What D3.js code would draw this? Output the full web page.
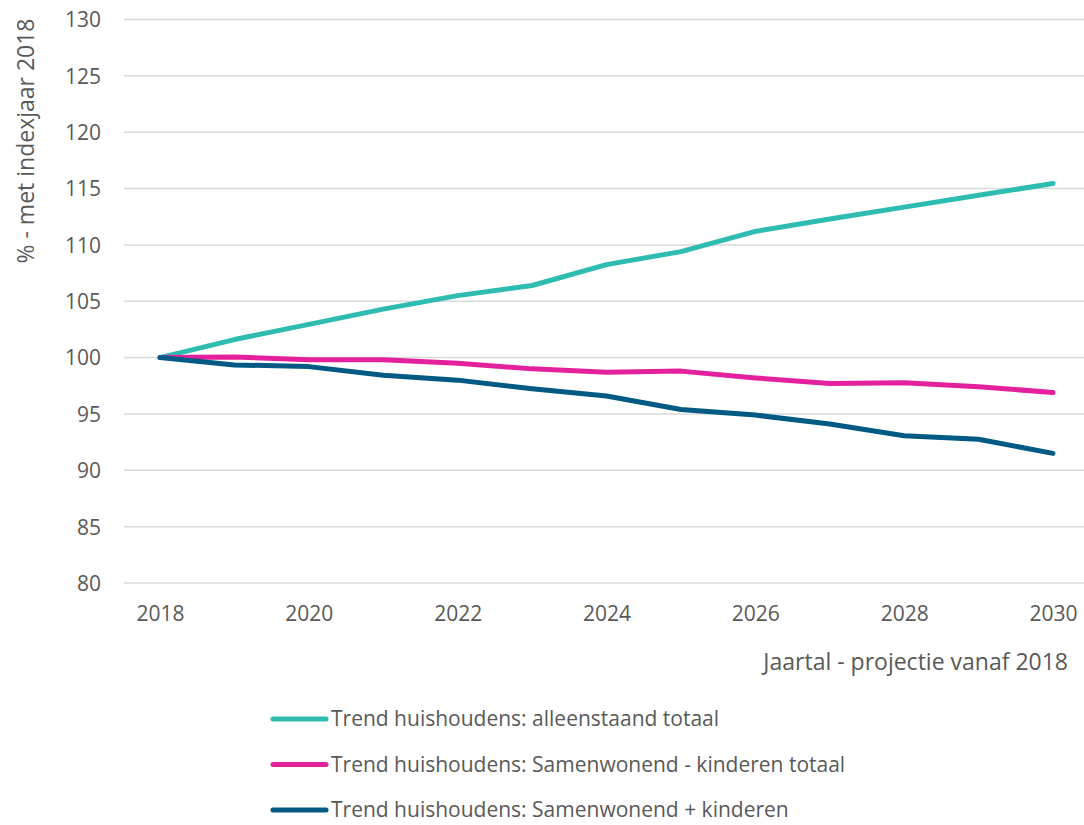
<!DOCTYPE html>
<html><head><meta charset="utf-8">
<script src="https://cdn.jsdelivr.net/npm/d3@7"></script>
<style>body{margin:0;background:#fff}svg{display:block;font-family:"Open Sans",sans-serif}</style>
</head><body><svg id="c" width="1084" height="825"></svg>
<script>
const years = [2018,2019,2020,2021,2022,2023,2024,2025,2026,2027,2028,2029,2030];
const alleenstaand = [100,101.6,102.95,104.3,105.5,106.4,108.25,109.4,111.2,112.3,113.35,114.4,115.45];
const samenZonder = [100,100.05,99.8,99.8,99.5,99.0,98.7,98.8,98.2,97.7,97.77,97.42,96.9];
const samenMet = [100,99.35,99.2,98.43,98.0,97.24,96.6,95.4,94.9,94.1,93.07,92.75,91.5];
const seriesNames = ["Trend huishoudens: alleenstaand totaal","Trend huishoudens: Samenwonend - kinderen totaal","Trend huishoudens: Samenwonend + kinderen"];
const seriesColors = ["#2EBCB1","#E4209D","#005A84"];
const yTicks = [80,85,90,95,100,105,110,115,120,125,130];
const xTicks = [2018,2020,2022,2024,2026,2028,2030];

const svg = d3.select("#c");
const x = d3.scaleLinear().domain([2018,2030]).range([160,1053]);
const y = d3.scaleLinear().domain([80,130]).range([583,19.5]);
const textColor = "#595959";

// gridlines
svg.append("g").selectAll("line").data(yTicks).join("line")
  .attr("x1",124).attr("x2",1084).attr("y1",d=>y(d)).attr("y2",d=>y(d))
  .attr("stroke","#D9D9D9").attr("stroke-width",1.5);

// y axis
const yAxis = svg.append("g").attr("transform","translate(101,0)")
  .call(d3.axisLeft(y).tickValues(yTicks).tickSize(0).tickPadding(0));
yAxis.select(".domain").remove();
yAxis.selectAll("text").attr("font-size",21).attr("fill",textColor).attr("font-family","Open Sans").attr("dy","0.35em");

// x axis
const xAxis = svg.append("g").attr("transform","translate(0,600)")
  .call(d3.axisBottom(x).tickValues(xTicks).tickFormat(d3.format("d")).tickSize(0).tickPadding(0));
xAxis.select(".domain").remove();
xAxis.selectAll("text").attr("font-size",21).attr("fill",textColor).attr("font-family","Open Sans").attr("dy","0.35em").attr("y",14);

// titles
svg.append("text").attr("transform","translate(34,141) rotate(-90)").attr("text-anchor","middle")
  .attr("font-size",23).attr("fill",textColor).text("% - met indexjaar 2018");
svg.append("text").attr("x",1068).attr("y",670).attr("text-anchor","end")
  .attr("font-size",23).attr("fill",textColor).text("Jaartal - projectie vanaf 2018");

// lines
const allSeries = [alleenstaand, samenZonder, samenMet];
const line = d3.line().x((d,i)=>x(years[i])).y(d=>y(d));
svg.append("g").selectAll("path").data(allSeries).join("path")
  .attr("d",line).attr("fill","none").attr("stroke",(d,i)=>seriesColors[i])
  .attr("stroke-width",5).attr("stroke-linecap","round").attr("stroke-linejoin","round");

// legend
const leg = svg.append("g").selectAll("g").data(seriesNames).join("g")
  .attr("transform",(d,i)=>`translate(0,${719+i*45.5})`);
leg.append("line").attr("x1",273).attr("x2",326).attr("y1",0).attr("y2",0)
  .attr("stroke",(d,i)=>seriesColors[i]).attr("stroke-width",5).attr("stroke-linecap","round");
leg.append("text").attr("x",331).attr("y",0).attr("dy","0.35em").attr("font-size",21)
  .attr("fill",textColor).text(d=>d);
</script></body></html>
